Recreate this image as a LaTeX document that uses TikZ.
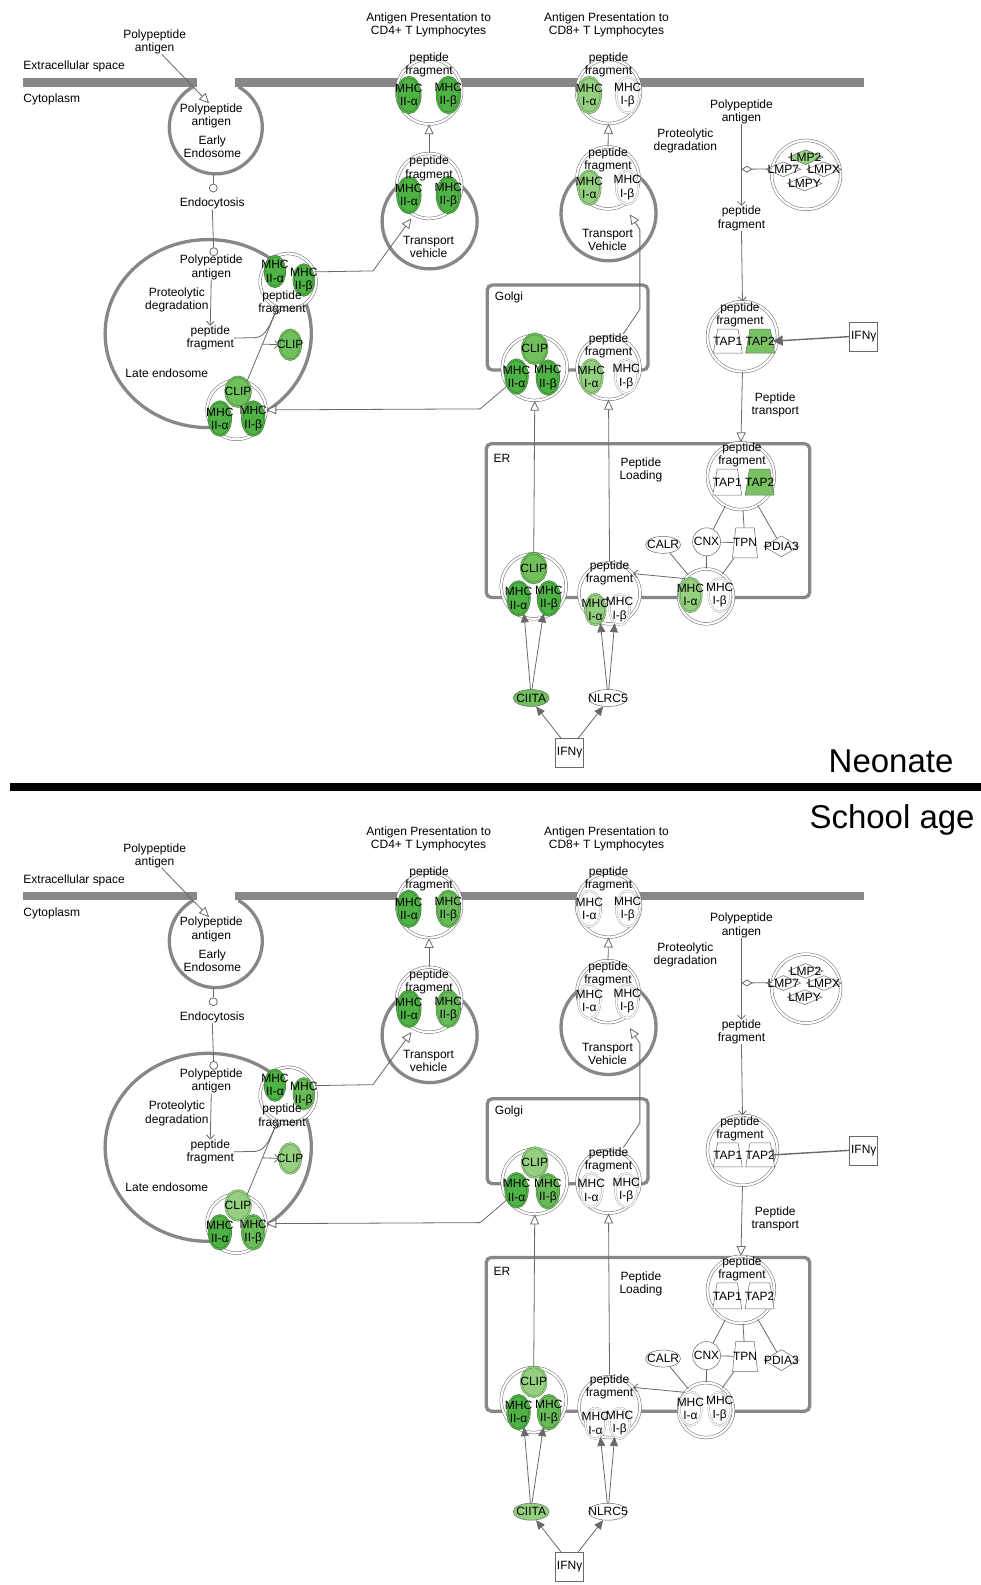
\documentclass[tikz,border=0pt]{standalone}
\usepackage{fontspec}
\setmainfont{Liberation Sans}
\usetikzlibrary{shapes.geometric,arrows.meta}
\definecolor{memgray}{RGB}{135,135,135}
\definecolor{lgray}{RGB}{105,105,105}
\definecolor{gDark}{RGB}{78,178,68}
\definecolor{gDarkB}{RGB}{104,188,88}
\definecolor{gMid}{RGB}{112,192,92}
\definecolor{gLight}{RGB}{148,208,128}
\definecolor{gLMP}{RGB}{150,210,130}
\definecolor{gTAP}{RGB}{120,194,98}
\definecolor{gCIITA}{RGB}{112,190,92}
\tikzset{
 txt/.style={font=\fontsize{12}{13.2}\selectfont, align=center, inner sep=0pt},
 lab/.style={font=\fontsize{12}{13.2}\selectfont, align=center, inner sep=0pt},
 big/.style={font=\fontsize{33}{36}\selectfont, inner sep=0pt},
 mem/.style={draw=memgray, line width=8.5pt},
 ves/.style={draw=memgray, line width=3.3pt},
 box/.style={draw=memgray, line width=3.3pt, rounded corners=5pt},
 cplx/.style={circle, draw=lgray, double=white, double distance=2.2pt, line width=0.5pt, fill=white, inner sep=0.5pt},
 mol/.style={ellipse, draw=#1!60!black, double=#1, double distance=1.3pt, line width=0.4pt, fill=#1, inner sep=0.5pt},
 mhcsm/.style={minimum width=20pt, minimum height=31pt},
 mhcsz/.style={minimum width=22pt, minimum height=34pt},
 mhcbig/.style={minimum width=23pt, minimum height=36pt},
 clipsz/.style={minimum width=25pt, minimum height=30pt},
 clipsm/.style={minimum width=21.5pt, minimum height=30pt},
 smallc/.style={circle, draw=lgray, line width=0.8pt, fill=white, inner sep=0.5pt, minimum size=8pt},
 con/.style={draw=lgray, line width=0.8pt},
 openarr/.style={-{Triangle[open, length=10pt, width=9pt, fill=white]}},
 varrow/.style={-{Straight Barb[length=4pt, width=8pt]}},
 farrow/.style={-{Triangle[length=9pt, width=8pt]}},
 ifntap/.style={-{Triangle[length=10pt, width=10pt]}},
 darrow/.style={-{Diamond[open, length=11pt, width=7pt, fill=white]}},
 sbox/.style={rectangle, draw=lgray, line width=0.6pt, fill=white, minimum width=28pt, minimum height=29pt, inner sep=0.5pt, font=\fontsize{12}{13.2}\selectfont},
 tapsh/.style={trapezium, trapezium angle=78, trapezium stretches=true, draw=lgray, line width=0.5pt, minimum width=29pt, minimum height=26pt, inner sep=1pt},
 tpnsh/.style={trapezium, trapezium angle=80, trapezium stretches=true, draw=lgray, line width=0.5pt, fill=white, minimum width=25pt, minimum height=30pt, inner sep=1pt},
 dia/.style={diamond, draw=lgray, line width=0.5pt, inner sep=1pt},
 pell/.style={ellipse, draw=lgray, line width=0.5pt, inner sep=0.5pt, minimum height=17pt},
}
\newcommand\molnode[5]{\node[mol=#3,#4,label={[lab]center:#5}] (#1) at (#2) {};}
\newcommand\drawpanel[1]{%
 % membranes, vesicles, compartments
 \draw[ves] (213.5,126) circle[radius=46];
 \fill[white] (192,66) rectangle (235,87.5);
 \draw[mem] (23,81.5) -- (195,81.5);
 \draw[mem] (232,81.5) -- (855,81.5);
 \draw[ves] (206,330) ellipse[x radius=102, y radius=93];
 \draw[ves] (425,219) circle[radius=47];
 \draw[ves] (602,211) circle[radius=47];
 \draw[box] (482,282) rectangle (641,366);
 \draw[box] (481,439) rectangle (801,591);
 % texts left
 \node[txt] (#1poly) at (153,41.5) {Polypeptide\\antigen};
 \node[txt,anchor=west] (#1exs) at (23,66) {Extracellular space};
 \node[txt,anchor=west] (#1cyt) at (23,98.5) {Cytoplasm};
 \node[txt] (#1eepoly) at (209,114.5) {Polypeptide\\antigen};
 \node[txt] (#1eelbl) at (210,145) {Early\\Endosome};
 \coordinate (#1eebot) at (211,172);
 \node[smallc] (#1sc1) at (211,186) {};
 \node[txt] (#1endo) at (210,201.5) {Endocytosis};
 \node[smallc] (#1sc2) at (211.5,249) {};
 \node[txt] (#1lepoly) at (209,264.5) {Polypeptide\\antigen};
 \node[txt] (#1leprot) at (175,296.5) {Proteolytic\\degradation};
 \node[txt] (#1lepep) at (208,334.5) {peptide\\fragment};
 \node[txt] (#1lelbl) at (165,369) {Late endosome};
 % late endosome complexes
 \node[cplx, minimum size=56pt] (#1leA) at (285,278.5) {};
 \molnode{#1leAa}{272,268.5}{pII}{mhcsm}{MHC\\II-α}
 \molnode{#1leAb}{300.5,277}{pIIb}{mhcsm}{MHC\\II-β}
 \node[txt] (#1leAp) at (279,299.5) {peptide\\fragment};
 \node[cplx, minimum size=59pt] (#1leB) at (234,405.5) {};
 \molnode{#1leBc}{235.5,387.5}{pCLIP}{clipsz}{CLIP}
 \molnode{#1leBa}{217.5,414}{pII}{mhcsz}{MHC\\II-α}
 \molnode{#1leBb}{250.5,414}{pIIb}{mhcsz}{MHC\\II-β}
 \molnode{#1clip}{287,341}{pCLIPf}{clipsm}{CLIP}
 % CD4
 \node[txt] (#1cd4l) at (424,24.5) {Antigen Presentation to\\CD4+ T Lymphocytes};
 \node[txt] (#1tv4) at (424,244.5) {Transport\\vehicle};
 \node[cplx, minimum size=65pt] (#1cd4t) at (424.5,90.5) {};
 \molnode{#1cd4ta}{404.5,94}{pII}{mhcbig}{MHC\\II-α}
 \molnode{#1cd4tb}{443.5,94}{pIIb}{mhcbig}{MHC\\II-β}
 \node[txt] (#1cd4tp) at (424.5,64.5) {peptide\\fragment};
 \node[cplx, minimum size=65pt] (#1cd4b) at (424.5,184) {};
 \molnode{#1cd4ba}{404.5,193}{pII}{mhcbig}{MHC\\II-α}
 \molnode{#1cd4bb}{443.5,193}{pIIb}{mhcbig}{MHC\\II-β}
 \node[txt] (#1cd4bp) at (424.5,166.5) {peptide\\fragment};
 \coordinate (#1cd4in) at (407,216);
 % CD8
 \node[txt] (#1cd8l) at (600,24.5) {Antigen Presentation to\\CD8+ T Lymphocytes};
 \node[txt] (#1tv8) at (601,237.5) {Transport\\Vehicle};
 \node[cplx, minimum size=64pt] (#1cd8t) at (602,90.5) {};
 \molnode{#1cd8ta}{583,94}{pIa}{mhcbig}{MHC\\I-α}
 \molnode{#1cd8tb}{621,94}{white}{mhcbig}{MHC\\I-β}
 \node[txt] (#1cd8tp) at (602,64.5) {peptide\\fragment};
 \node[cplx, minimum size=62pt] (#1cd8b) at (601.5,176) {};
 \molnode{#1cd8ba}{583,185.5}{pIa}{mhcsz}{MHC\\I-α}
 \molnode{#1cd8bb}{620.5,185.5}{white}{mhcsz}{MHC\\I-β}
 \node[txt] (#1cd8bp) at (601.5,158.5) {peptide\\fragment};
 \coordinate (#1cd8in) at (623,212);
 % Golgi
 \node[txt] (#1golgi) at (503.5,294.5) {Golgi};
 \node[cplx, minimum size=65pt] (#1gII) at (529,364) {};
 \molnode{#1gIIc}{529,345}{pCLIP}{clipsz}{CLIP}
 \molnode{#1gIIa}{511,372.5}{pII}{mhcsz}{MHC\\II-α}
 \molnode{#1gIIb}{542,373.5}{pIIb}{mhcsz}{MHC\\II-β}
 \node[cplx, minimum size=63pt] (#1gI) at (602,364) {};
 \molnode{#1gIa}{585,372.5}{pIa}{mhcsz}{MHC\\I-α}
 \molnode{#1gIb}{619.5,372.5}{white}{mhcsz}{MHC\\I-β}
 \node[txt] (#1gIp) at (602,342.5) {peptide\\fragment};
 % ER
 \node[txt] (#1erl) at (496.5,453) {ER};
 \node[txt] (#1pl) at (634,465) {Peptide\\Loading};
 \node[cplx, minimum size=67pt] (#1ertap) at (733,471) {};
 \node[tapsh, fill=white, label={[lab]center:TAP1}] (#1et1) at (719.5,477) {};
 \node[tapsh, fill=pTAP, label={[lab]center:TAP2}] (#1et2) at (751.5,477) {};
 \node[txt] (#1etp) at (734,450) {peptide\\fragment};
 \node[circle, draw=lgray, line width=0.5pt, fill=white, inner sep=0.5pt, minimum size=28pt, label={[lab]center:CNX}] (#1cnx) at (699,536) {};
 \node[tpnsh, label={[lab]center:TPN}] (#1tpn) at (737,537) {};
 \node[dia, fill=white, minimum width=35pt, minimum height=21pt, label={[lab]center:PDIA3}] (#1pdia) at (773,540.5) {};
 \node[pell, fill=white, minimum width=35pt, label={[lab]center:CALR}] (#1calr) at (656,539) {};
 \node[cplx, minimum size=55pt] (#1erM) at (698.5,590) {};
 \molnode{#1erMa}{683,588.5}{pIa}{mhcsz}{MHC\\I-α}
 \molnode{#1erMb}{712,588.5}{white}{mhcsz}{MHC\\I-β}
 \node[cplx, minimum size=61pt] (#1erI) at (603,587) {};
 \molnode{#1erIa}{589,603}{pIa}{mhcsm}{MHC\\I-α}
 \molnode{#1erIb}{613,603}{white}{mhcsm}{MHC\\I-β}
 \node[txt] (#1erIp) at (603,567) {peptide\\fragment};
 \node[cplx, minimum size=65pt] (#1erII) at (528,580) {};
 \molnode{#1erIIc}{528,562}{pCLIP}{clipsz}{CLIP}
 \molnode{#1erIIa}{513,592}{pII}{mhcsz}{MHC\\II-α}
 \molnode{#1erIIb}{543,592}{pIIb}{mhcsz}{MHC\\II-β}
 % bottom
 \node[pell, fill=pCIITA, minimum width=36pt, label={[lab]center:CIITA}] (#1ciita) at (525.5,690.5) {};
 \node[pell, fill=white, minimum width=39pt, label={[lab]center:NLRC5}] (#1nlrc) at (601.5,690.5) {};
 \node[sbox] (#1ifn) at (563.5,745) {IFNγ};
 % right side
 \node[txt] (#1rpoly) at (733.5,110.5) {Polypeptide\\antigen};
 \node[txt] (#1rprot) at (678,139.5) {Proteolytic\\degradation};
 \node[txt] (#1rpep) at (733.5,216) {peptide\\fragment};
 \coordinate (#1rmid) at (733.5,167.5);
 \node[cplx, minimum size=69pt] (#1prot) at (797.5,173) {};
 \node[dia, fill=pLMP, minimum width=35pt, minimum height=15pt, label={[lab]center:LMP2}] (#1lmp2) at (797,155.5) {};
 \node[dia, fill=white, minimum width=35pt, minimum height=15pt, label={[lab]center:LMPY}] (#1lmpy) at (796,181.5) {};
 \node[dia, fill=white, minimum width=35pt, minimum height=15pt, label={[lab]center:LMP7}] (#1lmp7) at (775,167.5) {};
 \node[dia, fill=white, minimum width=35pt, minimum height=15pt, label={[lab]center:LMPX}] (#1lmpx) at (815,167.5) {};
 \node[cplx, minimum size=70pt] (#1tap) at (734.5,333) {};
 \node[tapsh, fill=white, minimum height=24pt, label={[lab]center:TAP1}] (#1t1) at (720,337.5) {};
 \node[tapsh, fill=pTAP, minimum height=24pt, label={[lab]center:TAP2}] (#1t2) at (752,337.5) {};
 \node[txt] (#1tp) at (732,311.5) {peptide\\fragment};
 \node[sbox] (#1ifnr) at (854.5,333) {IFNγ};
 \node[txt] (#1ptr) at (767,400.5) {Peptide\\transport};
 % connectors
 \draw[con, openarr] (#1poly.-60) -- (#1eepoly.100);
 \draw[con] (#1eebot) -- (#1sc1);
 \draw[con] (#1endo.south) -- (#1sc2);
 \draw[con, varrow] (#1lepoly.south) -- (#1lepep.north);
 \draw[con, varrow] (#1lepep.east) -- (253,334) .. controls (264,333) and (268,318) .. (#1leA.-112);
 \draw[con, varrow] (#1leB.70) -- coordinate[pos=0.51] (#1brk) (#1leA.-112);
 \draw[con, varrow] (#1brk) -- (#1clip.west);
 \draw[con, openarr] (#1leA.20) -- (369,268) -- (#1cd4in);
 \draw[con, openarr] (#1cd4b.north) -- (#1cd4t.south);
 \draw[con, openarr] (#1cd8b.north) -- (#1cd8t.south);
 \draw[con, openarr] (#1gIp.40) -- (633,306) -- (633,227) -- (#1cd8in);
 \draw[con, openarr] (#1gIIa.-135) -- (475,404.5) -- (#1leB.east);
 \draw[con, openarr] (#1erIIc.north) -- (#1gII.south);
 \draw[con, openarr] (#1erIp.north) -- (#1gI.south);
 \draw[con] (#1ertap) -- (#1cnx);
 \draw[con] (#1ertap) -- (#1tpn);
 \draw[con] (#1ertap) -- (#1pdia);
 \draw[con] (#1cnx) -- (#1tpn);
 \draw[con] (#1cnx) -- (#1erM);
 \draw[con] (#1tpn) -- (#1erM);
 \draw[con] (#1calr) -- (#1erM);
 \draw[con, varrow] (#1erM.140) -- (#1erI.40);
 \draw[con, farrow] (#1ifn.120) -- (#1ciita.-60);
 \draw[con, farrow] (#1ifn.60) -- (#1nlrc.-120);
 \draw[con, farrow] (#1ciita.95) -- (#1erIIa.-70);
 \draw[con, farrow] (#1ciita.85) -- (#1erIIb.-110);
 \draw[con, farrow] (#1nlrc.95) -- (#1erIa.-70);
 \draw[con, farrow] (#1nlrc.85) -- (#1erIb.-110);
 \draw[con, varrow] (#1rpoly.south) -- (#1rpep.north);
 \draw[con, darrow] (#1prot.170) -- (#1rmid);
 \draw[con, varrow] (#1rpep.south) -- (#1tap.north);
 \draw[con, line width=1.4pt, ifntap] (#1ifnr.west) -- (#1t2.east);
 \draw[con, openarr] (#1tap.south) -- (#1ertap.north);
}
\begin{document}
\begin{tikzpicture}[x=1.01134pt,y=-1.01134pt]
\useasboundingbox (0,0) rectangle (970,1568);
\fill[white] (0,0) rectangle (970,1568);
\colorlet{pII}{gDark}\colorlet{pIIb}{gDark}\colorlet{pCLIP}{gMid}\colorlet{pCLIPf}{gMid}
\colorlet{pIa}{gLight}\colorlet{pLMP}{gLMP}\colorlet{pTAP}{gTAP}\colorlet{pCIITA}{gCIITA}
\drawpanel{a}
\fill[black] (10,774.5) rectangle (970,783);
\node[big, anchor=base] (neo) at (881.5,764.5) {Neonate};
\node[big, anchor=base] (sch) at (882.5,820) {School age};
\colorlet{pII}{gDark}\colorlet{pIIb}{gDarkB}\colorlet{pCLIP}{gLight}\colorlet{pCLIPf}{gLight}
\colorlet{pIa}{white}\colorlet{pLMP}{white}\colorlet{pTAP}{white}\colorlet{pCIITA}{gLight}
\begin{scope}[shift={(0,805)}]
\tikzset{ifntap/.style={-{Bar[width=11pt, line width=1.4pt]}}}
\drawpanel{b}
\end{scope}
\end{tikzpicture}
\end{document}
